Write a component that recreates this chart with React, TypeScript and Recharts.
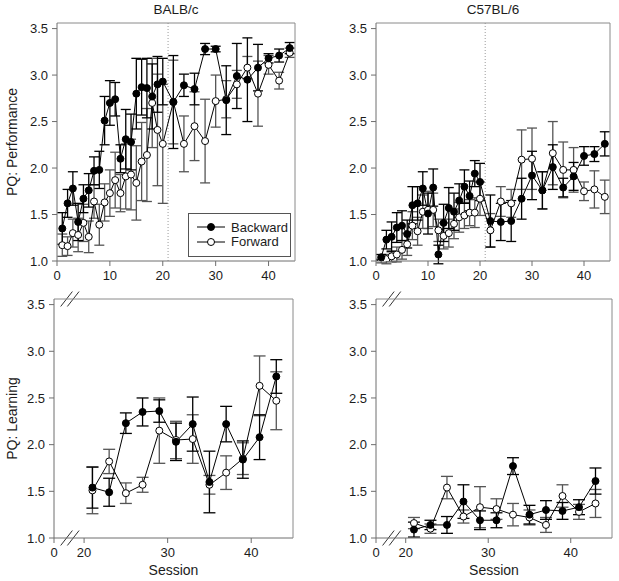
import React from "react";
import { ComposedChart, Line, XAxis, YAxis, ErrorBar, ReferenceLine, Legend } from "recharts";

// sessions (performance panels run every session to 20, then every other day)
const PERF_SESSIONS = [
  1, 2, 3, 4, 5, 6, 7, 8, 9, 10, 11, 12, 13, 14, 15, 16, 17, 18, 19, 20,
  22, 24, 26, 28, 30, 32, 34, 36, 38, 40, 42, 44,
];
const LEARN_SESSIONS = [21, 23, 25, 27, 29, 31, 33, 35, 37, 39, 41, 43];

// BALB/c, PQ: Performance
const BALB_PERF_BACK = [
  1.35, 1.62, 1.78, 1.42, 1.67, 1.76, 1.97, 1.98, 2.51, 2.7, 2.74, 2.1, 2.31, 2.28, 2.8, 2.87, 2.86, 2.77, 2.9, 2.93,
  2.71, 2.89, 2.85, 3.28, 3.28, 2.73, 2.99, 2.95, 3.08, 3.18, 3.21, 3.29,
];
const BALB_PERF_BACK_SE = [
  0.17, 0.15, 0.18, 0.2, 0.15, 0.18, 0.15, 0.2, 0.26, 0.24, 0.18, 0.15, 0.32, 0.3, 0.38, 0.3, 0.32, 0.35, 0.3, 0.25,
  0.5, 0.12, 0.17, 0.06, 0.03, 0.37, 0.35, 0.45, 0.25, 0.05, 0.07, 0.06,
];
const BALB_PERF_FWD = [
  1.17, 1.16, 1.3, 1.28, 1.41, 1.26, 1.64, 1.39, 1.63, 1.73, 1.87, 1.73, 1.91, 1.93, 1.84, 2.07, 2.14, 2.7, 2.41, 2.26,
  2.71, 2.26, 2.45, 2.29, 2.72, 2.74, 2.9, 3.08, 2.8, 3.11, 2.94, 3.24,
];
const BALB_PERF_FWD_SE = [
  0.12, 0.1, 0.15, 0.18, 0.2, 0.17, 0.18, 0.22, 0.2, 0.25, 0.3, 0.2, 0.35, 0.38, 0.4, 0.42, 0.5, 0.48, 0.6, 0.64,
  0.45, 0.3, 0.37, 0.45, 0.28, 0.2, 0.15, 0.12, 0.35, 0.1, 0.09, 0.05,
];

// C57BL/6, PQ: Performance
const C57_PERF_BACK = [
  1.04, 1.23, 1.26, 1.36, 1.38, 1.29, 1.6, 1.62, 1.78, 1.51, 1.79, 1.07, 1.41, 1.57, 1.53, 1.65, 1.8, 1.7, 1.94, 1.85,
  1.43, 1.42, 1.43, 1.67, 1.92, 1.76, 2.01, 1.79, 1.91, 2.13, 2.15, 2.26,
];
const C57_PERF_BACK_SE = [
  0.03, 0.1, 0.16, 0.16, 0.16, 0.15, 0.2, 0.18, 0.18, 0.22, 0.2, 0.1, 0.2, 0.22, 0.2, 0.18, 0.18, 0.16, 0.14, 0.2,
  0.28, 0.2, 0.22, 0.22, 0.26, 0.2, 0.24, 0.1, 0.15, 0.1, 0.08, 0.13,
];
const C57_PERF_FWD = [
  1.0, 1.02, 1.05, 1.07, 1.12, 1.18, 1.38, 1.32, 1.53, 1.55, 1.55, 1.33, 1.27, 1.3, 1.4, 1.47, 1.49, 1.52, 1.52, 1.67,
  1.33, 1.64, 1.62, 2.09, 2.1, 1.76, 2.16, 1.98, 1.98, 1.75, 1.77, 1.69,
];
const C57_PERF_FWD_SE = [
  0.02, 0.05, 0.06, 0.08, 0.1, 0.12, 0.15, 0.15, 0.18, 0.2, 0.18, 0.12, 0.14, 0.15, 0.16, 0.16, 0.14, 0.14, 0.16, 0.18,
  0.18, 0.16, 0.15, 0.32, 0.33, 0.2, 0.34, 0.3, 0.24, 0.1, 0.2, 0.18,
];

// PQ: Learning
const BALB_LEARN_BACK = [1.54, 1.49, 2.23, 2.35, 2.36, 2.03, 2.22, 1.6, 2.22, 1.84, 2.08, 2.73];
const BALB_LEARN_BACK_SE = [0.22, 0.15, 0.11, 0.15, 0.12, 0.2, 0.29, 0.33, 0.19, 0.2, 0.24, 0.18];
const BALB_LEARN_FWD = [1.51, 1.82, 1.48, 1.57, 2.15, 2.05, 2.06, 1.57, 1.7, 1.85, 2.63, 2.47];
const BALB_LEARN_FWD_SE = [0.25, 0.13, 0.11, 0.08, 0.35, 0.2, 0.26, 0.1, 0.18, 0.17, 0.32, 0.31];

const C57_LEARN_BACK = [1.09, 1.14, 1.14, 1.39, 1.19, 1.19, 1.77, 1.25, 1.3, 1.29, 1.33, 1.61];
const C57_LEARN_BACK_SE = [0.08, 0.05, 0.09, 0.18, 0.1, 0.08, 0.09, 0.1, 0.1, 0.09, 0.08, 0.14];
const C57_LEARN_FWD = [1.16, 1.1, 1.54, 1.23, 1.33, 1.31, 1.25, 1.22, 1.14, 1.45, 1.28, 1.37];
const C57_LEARN_FWD_SE = [0.06, 0.05, 0.12, 0.07, 0.22, 0.11, 0.12, 0.08, 0.08, 0.12, 0.08, 0.15];

const Y_TICKS = [1.0, 1.5, 2.0, 2.5, 3.0, 3.5];
const PERF_X_TICKS = [0, 10, 20, 30, 40];
const BREAK_AT = 16.4; // left edge of the broken learning axis, labelled "0"
const LEARN_X_TICKS = [BREAK_AT, 20, 30, 40];

const FONT = '"Liberation Sans", Arial, sans-serif';
const AXIS = "#6e6e6e";
const TEXT = "#1c1c1c";
const Y_DOMAIN: [number, number] = [1, 3.56];

const buildRows = (sessions: number[], back: number[], backSe: number[], fwd: number[], fwdSe: number[]) =>
  sessions.map((s, i) => ({ session: s, back: back[i], backSe: backSe[i], fwd: fwd[i], fwdSe: fwdSe[i] }));

const BoxLegend = () => (
  <div
    style={{
      border: "1px solid #555",
      background: "#fff",
      width: 103,
      height: 44,
      boxSizing: "border-box",
      paddingTop: 6,
      fontFamily: FONT,
      fontSize: 13,
      color: TEXT,
    }}
  >
    {[
      { name: "Backward", fill: "#000" },
      { name: "Forward", fill: "#fff" },
    ].map((s) => (
      <div key={s.name} style={{ display: "flex", alignItems: "center", height: 14.5 }}>
        <svg width={28} height={12} style={{ marginLeft: 8 }}>
          <line x1={0} x2={28} y1={6} y2={6} stroke="#000" />
          <circle cx={14} cy={6} r={3.5} fill={s.fill} stroke="#000" />
        </svg>
        <span style={{ marginLeft: 6 }}>{s.name}</span>
      </div>
    ))}
  </div>
);

interface PanelProps {
  rows: ReturnType<typeof buildRows>;
  left: number;
  top: number;
  width: number;
  height: number;
  plotLeft: number;
  plotRight: number;
  plotTop: number;
  plotBottom: number;
  xAxisH: number;
  xDomain: [number, number];
  xTicks: number[];
  title?: string;
  yLabel?: string;
  xLabel?: string;
  divider?: boolean;
  legend?: boolean;
  broken?: boolean;
  capW: number;
}

const Panel = (p: PanelProps) => {
  const rightW = 8;
  const ids = { xAxisId: "bottom", yAxisId: "left" };
  const slash = (x0: number, y0: number, x1: number, y1: number, k: string) => (
    <ReferenceLine
      key={k}
      {...ids}
      segment={[{ x: x0, y: y0 }, { x: x1, y: y1 }]}
      stroke="#333"
      ifOverflow="visible"
    />
  );
  return (
    <div style={{ position: "absolute", left: p.left, top: p.top, width: p.width, height: p.height }}>
      <ComposedChart
        width={p.width}
        height={p.height}
        data={p.rows}
        margin={{ top: 0, left: 0, right: p.width - p.plotRight - rightW, bottom: p.height - p.plotBottom - p.xAxisH }}
      >
        <XAxis
          xAxisId="top"
          orientation="top"
          type="number"
          dataKey="session"
          domain={p.xDomain}
          allowDataOverflow
          height={p.plotTop}
          tick={false}
          tickLine={false}
          axisLine={{ stroke: "#8a8a8a" }}
          label={
            p.title
              ? { value: p.title, position: "insideTop", offset: 4, fill: TEXT, fontSize: 13.5, fontFamily: FONT }
              : undefined
          }
        />
        <XAxis
          xAxisId="bottom"
          type="number"
          dataKey="session"
          domain={p.xDomain}
          allowDataOverflow
          ticks={p.xTicks}
          interval={0}
          tickFormatter={(v: number) => (v === BREAK_AT ? "0" : String(v))}
          height={p.xAxisH}
          tickSize={5}
          tickMargin={5}
          tick={{ fill: TEXT, fontSize: 13, fontFamily: FONT }}
          tickLine={{ stroke: AXIS }}
          axisLine={{ stroke: AXIS }}
          label={
            p.xLabel
              ? { value: p.xLabel, position: "insideBottom", offset: 3, fill: TEXT, fontSize: 14, fontFamily: FONT }
              : undefined
          }
        />
        <YAxis
          yAxisId="left"
          width={p.plotLeft}
          type="number"
          domain={Y_DOMAIN}
          allowDataOverflow
          ticks={Y_TICKS}
          interval={0}
          tickFormatter={(v: number) => v.toFixed(1)}
          tickSize={5}
          tickMargin={4}
          tick={{ fill: TEXT, fontSize: 13, fontFamily: FONT }}
          tickLine={{ stroke: AXIS }}
          axisLine={{ stroke: AXIS }}
          label={
            p.yLabel
              ? {
                  value: p.yLabel,
                  angle: -90,
                  position: "insideLeft",
                  offset: 12,
                  fill: TEXT,
                  fontSize: 14,
                  fontFamily: FONT,
                  style: { textAnchor: "middle" },
                }
              : undefined
          }
        />
        <YAxis
          yAxisId="right"
          orientation="right"
          width={rightW}
          type="number"
          domain={Y_DOMAIN}
          allowDataOverflow
          ticks={Y_TICKS}
          interval={0}
          tick={false}
          tickSize={5}
          tickLine={{ stroke: "#8a8a8a" }}
          axisLine={{ stroke: "#8a8a8a" }}
        />
        {p.divider && <ReferenceLine {...ids} x={21} stroke="#9a9a9a" strokeDasharray="1 2" />}
        {p.broken && [
          slash(17.2, 0.92, 18.6, 1.08, "b1"),
          slash(18.0, 0.92, 19.4, 1.08, "b2"),
          slash(17.2, 3.48, 18.6, 3.64, "t1"),
          slash(18.0, 3.48, 19.4, 3.64, "t2"),
        ]}
        <Line
          {...ids}
          dataKey="fwd"
          stroke="#000"
          strokeWidth={1}
          dot={{ r: 3.5, fill: "#fff", stroke: "#000", strokeWidth: 1 }}
          activeDot={false}
          isAnimationActive={false}
        >
          <ErrorBar dataKey="fwdSe" width={p.capW} stroke="#555" strokeWidth={1.3} direction="y" />
        </Line>
        <Line
          {...ids}
          dataKey="back"
          stroke="#000"
          strokeWidth={1}
          dot={{ r: 3.5, fill: "#000", stroke: "#000", strokeWidth: 1 }}
          activeDot={false}
          isAnimationActive={false}
        >
          <ErrorBar dataKey="backSe" width={p.capW} stroke="#000" strokeWidth={1.3} direction="y" />
        </Line>
        {p.legend && (
          <Legend
            layout="vertical"
            align="center"
            verticalAlign="middle"
            wrapperStyle={{ left: 188, top: 213, width: 103 }}
            content={() => <BoxLegend />}
          />
        )}
      </ComposedChart>
    </div>
  );
};

export default function App() {
  const balbPerf = buildRows(PERF_SESSIONS, BALB_PERF_BACK, BALB_PERF_BACK_SE, BALB_PERF_FWD, BALB_PERF_FWD_SE);
  const c57Perf = buildRows(PERF_SESSIONS, C57_PERF_BACK, C57_PERF_BACK_SE, C57_PERF_FWD, C57_PERF_FWD_SE);
  const balbLearn = buildRows(LEARN_SESSIONS, BALB_LEARN_BACK, BALB_LEARN_BACK_SE, BALB_LEARN_FWD, BALB_LEARN_FWD_SE);
  const c57Learn = buildRows(LEARN_SESSIONS, C57_LEARN_BACK, C57_LEARN_BACK_SE, C57_LEARN_FWD, C57_LEARN_FWD_SE);

  return (
    <div style={{ position: "absolute", left: 0, top: 0, width: 619, height: 581, background: "#fff", fontFamily: FONT }}>
      <Panel
        rows={balbPerf}
        left={0}
        top={0}
        width={310}
        height={290}
        plotLeft={57}
        plotRight={295}
        plotTop={23}
        plotBottom={261}
        xAxisH={25}
        xDomain={[0, 45]}
        xTicks={PERF_X_TICKS}
        title="BALB/c"
        yLabel="PQ: Performance"
        divider
        legend
        capW={5}
      />
      <Panel
        rows={c57Perf}
        left={320}
        top={0}
        width={299}
        height={290}
        plotLeft={56}
        plotRight={290}
        plotTop={23}
        plotBottom={261}
        xAxisH={25}
        xDomain={[0, 45]}
        xTicks={PERF_X_TICKS}
        title="C57BL/6"
        divider
        capW={5}
      />
      <Panel
        rows={balbLearn}
        left={0}
        top={290}
        width={310}
        height={291}
        plotLeft={54}
        plotRight={293}
        plotTop={9}
        plotBottom={248}
        xAxisH={40}
        xDomain={[BREAK_AT, 45]}
        xTicks={LEARN_X_TICKS}
        yLabel="PQ: Learning"
        xLabel="Session"
        broken
        capW={6}
      />
      <Panel
        rows={c57Learn}
        left={320}
        top={290}
        width={299}
        height={291}
        plotLeft={56}
        plotRight={292}
        plotTop={9}
        plotBottom={248}
        xAxisH={40}
        xDomain={[BREAK_AT, 45]}
        xTicks={LEARN_X_TICKS}
        xLabel="Session"
        broken
        capW={6}
      />
    </div>
  );
}
